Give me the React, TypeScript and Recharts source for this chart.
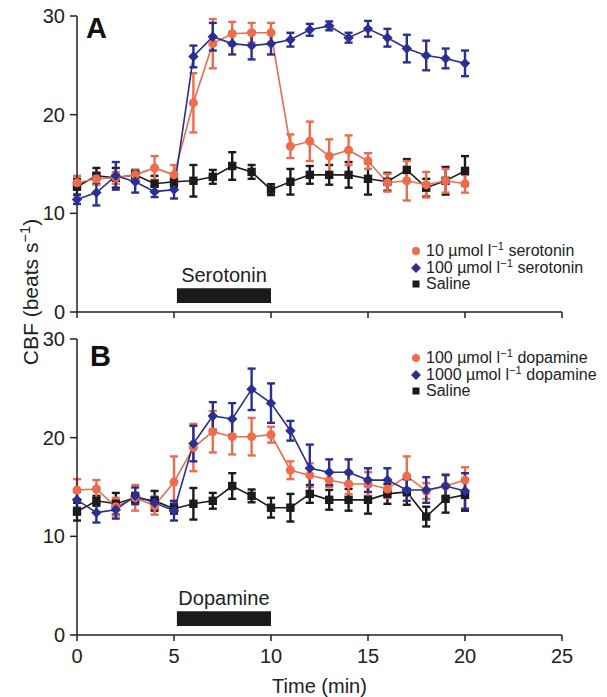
import React from 'react';
import { ComposedChart, Line, XAxis, YAxis, ErrorBar, ReferenceArea, Legend } from 'recharts';

// ---------- data ----------
const time = [0, 1, 2, 3, 4, 5, 6, 7, 8, 9, 10, 11, 12, 13, 14, 15, 16, 17, 18, 19, 20];
const xTicks = [0, 5, 10, 15, 20, 25];
const yTicks = [0, 10, 20, 30];

// Panel A
const serotonin10 = [13.1, 13.5, 13.6, 13.9, 14.6, 13.9, 21.2, 27.2, 28.2, 28.3, 28.3, 16.8, 17.3, 15.8, 16.4, 15.3, 13.1, 13.3, 12.9, 13.3, 13.0];
const serotonin10Err = [0.7, 0.6, 0.6, 0.5, 1.2, 1.0, 3.0, 2.5, 1.2, 1.0, 1.0, 1.2, 2.0, 1.7, 1.5, 0.8, 0.9, 2.0, 1.3, 1.2, 0.9];
const serotonin100 = [11.4, 12.1, 13.8, 13.2, 12.2, 12.4, 25.9, 27.9, 27.2, 27.0, 27.2, 27.6, 28.6, 29.0, 27.8, 28.7, 27.8, 26.7, 26.0, 25.7, 25.2];
const serotonin100Err = [0.45, 1.3, 1.4, 1.1, 0.55, 0.9, 1.1, 1.4, 1.1, 1.4, 1.1, 0.7, 0.6, 0.45, 0.5, 0.8, 0.9, 1.4, 1.5, 1.0, 1.3];
const salineA = [12.7, 13.8, 13.6, 13.9, 13.0, 13.2, 13.3, 13.7, 14.8, 14.2, 12.4, 13.2, 13.9, 13.9, 13.9, 13.5, 13.2, 14.4, 12.6, 13.3, 14.3];
const salineAErr = [0.8, 0.8, 1.0, 0.5, 0.8, 0.5, 1.6, 0.7, 1.4, 0.7, 0.55, 1.3, 0.9, 1.0, 1.3, 1.6, 0.9, 1.1, 0.9, 1.4, 1.5];

// Panel B
const dopamine100 = [14.7, 14.8, 13.0, 13.9, 13.1, 15.5, 19.0, 20.6, 20.1, 20.1, 20.3, 16.7, 16.2, 15.7, 15.3, 15.3, 14.8, 16.1, 14.6, 15.1, 15.7];
const dopamine100Err = [1.1, 0.9, 0.9, 1.3, 0.9, 2.6, 2.4, 2.1, 1.8, 1.9, 0.8, 0.9, 1.2, 0.7, 1.0, 1.2, 0.9, 2.0, 0.8, 1.2, 1.3];
const dopamine1000 = [13.7, 12.4, 12.7, 14.1, 13.4, 12.6, 19.4, 22.2, 21.9, 24.9, 23.5, 20.7, 16.9, 16.5, 16.5, 15.7, 15.7, 14.7, 14.7, 15.1, 14.6];
const dopamine1000Err = [0.8, 1.0, 0.9, 0.85, 0.6, 1.0, 1.8, 1.4, 1.6, 2.1, 2.0, 1.0, 2.4, 1.3, 1.3, 1.2, 1.2, 1.1, 1.3, 1.1, 1.8];
const salineB = [12.5, 13.6, 13.3, 13.9, 13.6, 12.8, 13.3, 13.6, 15.1, 14.1, 12.9, 12.9, 14.3, 13.7, 13.7, 13.7, 14.3, 14.5, 12.0, 13.8, 14.2];
const salineBErr = [0.9, 0.5, 1.1, 0.5, 1.0, 0.5, 1.6, 0.8, 1.3, 0.65, 1.0, 1.4, 0.9, 1.0, 1.1, 1.4, 1.0, 1.3, 1.0, 1.4, 1.6];

// stimulus period (min) and bar band (CBF units)
const stimulusPeriod = [5.15, 10];
const stimulusBand = [0.9, 2.4];

const legendA = ['10', '100', 'serotonin'];
const legendB = ['100', '1000', 'dopamine'];

// ---------- styles ----------
const FONT = '"Liberation Sans", Arial, Helvetica, sans-serif';
const RED = '#EE6B4D';
const BLUE = '#2A2F92';
const BLACK = '#1B1B1B';
const AXIS = '#222';

function buildRows(a: number[], aErr: number[], b: number[], bErr: number[], s: number[], sErr: number[]) {
  return time.map((t, i) => ({ t, a: a[i], aErr: aErr[i], b: b[i], bErr: bErr[i], s: s[i], sErr: sErr[i] }));
}

const rowsA = buildRows(serotonin10, serotonin10Err, serotonin100, serotonin100Err, salineA, salineAErr);
const rowsB = buildRows(dopamine100, dopamine100Err, dopamine1000, dopamine1000Err, salineB, salineBErr);

const CircleDot = (p: any) => {
  if (p.cx == null || p.cy == null) return <g key={p.key} />;
  return <circle key={p.key} cx={p.cx} cy={p.cy} r={4.5} fill={RED} />;
};
const DiamondDot = (p: any) => {
  if (p.cx == null || p.cy == null) return <g key={p.key} />;
  const h = 5.2;
  return <polygon key={p.key} points={`${p.cx},${p.cy - h} ${p.cx + h},${p.cy} ${p.cx},${p.cy + h} ${p.cx - h},${p.cy}`} fill={BLUE} />;
};
const SquareDot = (p: any) => {
  if (p.cx == null || p.cy == null) return <g key={p.key} />;
  const h = 4.2;
  return <rect key={p.key} x={p.cx - h} y={p.cy - h} width={2 * h} height={2 * h} fill={BLACK} />;
};

const Sup = ({ children }: any) => (
  <span style={{ fontSize: '0.7em', verticalAlign: '0.5em', lineHeight: 0 }}>{children}</span>
);

function LegendBox({ items }: { items: string[] }) {
  const [c1, c2, drug] = items;
  const row: React.CSSProperties = { display: 'flex', alignItems: 'center', height: 16.5, whiteSpace: 'nowrap' };
  const mk: React.CSSProperties = { width: 10, display: 'flex', justifyContent: 'center', marginRight: 5 };
  return (
    <div style={{ fontFamily: FONT, fontSize: 16, color: '#222', lineHeight: '16px' }}>
      <div style={row}>
        <span style={mk}><svg width={10} height={10}><circle cx={5} cy={5} r={4} fill={RED} /></svg></span>
        <span>{c1} µmol l<Sup>−1</Sup> {drug}</span>
      </div>
      <div style={row}>
        <span style={mk}><svg width={10} height={10}><polygon points="5,0 10,5 5,10 0,5" fill={BLUE} /></svg></span>
        <span>{c2} µmol l<Sup>−1</Sup> {drug}</span>
      </div>
      <div style={row}>
        <span style={mk}><svg width={10} height={10}><rect x={1.5} y={1.5} width={7} height={7} fill={BLACK} /></svg></span>
        <span>Saline</span>
      </div>
    </div>
  );
}

function Panel({ top, height, rows, letter, letterTop, letterLeft, stimulusLabel, legendItems, legendTop, showXLabels }: any) {
  const tickStyle = { fontSize: 20, fill: AXIS, fontFamily: FONT };
  return (
    <div style={{ position: 'absolute', left: 0, top, width: 607, height }}>
      <ComposedChart
        width={607}
        height={height}
        data={rows}
        margin={{ top: 16, right: 45, bottom: showXLabels ? 0 : 8, left: 0 }}
      >
        <XAxis
          dataKey="t"
          type="number"
          domain={[0, 25]}
          ticks={xTicks}
          interval={0}
          height={showXLabels ? 62 : 10}
          tickSize={6}
          tickMargin={8}
          tickFormatter={showXLabels ? undefined : () => ''}
          tick={tickStyle}
          stroke={AXIS}
          strokeWidth={1.5}
          tickLine={{ stroke: AXIS, strokeWidth: 1.5 }}
          label={showXLabels ? { value: 'Time (min)', position: 'insideBottom', offset: 4, fontSize: 20, fill: AXIS, fontFamily: FONT } : undefined}
        />
        <YAxis
          type="number"
          domain={[0, 30]}
          ticks={yTicks}
          interval={0}
          width={77}
          tickSize={7}
          tickMargin={5}
          tick={tickStyle}
          stroke={AXIS}
          strokeWidth={1.5}
          tickLine={{ stroke: AXIS, strokeWidth: 1.5 }}
        />
        <ReferenceArea
          x1={stimulusPeriod[0]}
          x2={stimulusPeriod[1]}
          y1={stimulusBand[0]}
          y2={stimulusBand[1]}
          fill={BLACK}
          fillOpacity={1}
          stroke="none"
          ifOverflow="visible"
          label={{ value: stimulusLabel, position: 'top', offset: 6, fontSize: 20, fill: AXIS, fontFamily: FONT }}
        />
        <Line dataKey="s" stroke={BLACK} strokeWidth={1.6} dot={SquareDot} activeDot={false} isAnimationActive={false}>
          <ErrorBar dataKey="sErr" width={4} strokeWidth={2.4} stroke={BLACK} direction="y" />
        </Line>
        <Line dataKey="a" stroke={RED} strokeWidth={1.6} dot={CircleDot} activeDot={false} isAnimationActive={false}>
          <ErrorBar dataKey="aErr" width={4} strokeWidth={2.4} stroke={RED} direction="y" />
        </Line>
        <Line dataKey="b" stroke={BLUE} strokeWidth={1.6} dot={DiamondDot} activeDot={false} isAnimationActive={false}>
          <ErrorBar dataKey="bErr" width={4} strokeWidth={2.4} stroke={BLUE} direction="y" />
        </Line>
        <Legend
          layout="vertical"
          align="center"
          verticalAlign="middle"
          content={() => <LegendBox items={legendItems} />}
          wrapperStyle={{ left: 411, top: legendTop, width: 200 }}
        />
      </ComposedChart>
      <div
        style={{
          position: 'absolute',
          left: letterLeft,
          top: letterTop,
          fontFamily: FONT,
          fontWeight: 'bold',
          fontSize: 29,
          lineHeight: 1,
          color: '#111',
        }}
      >
        {letter}
      </div>
    </div>
  );
}

export default function App() {
  return (
    <div style={{ position: 'absolute', left: 0, top: 0, width: 607, height: 697, background: '#fff', fontFamily: FONT, overflow: 'hidden' }}>
      <Panel
        top={0}
        height={330}
        rows={rowsA}
        letter="A"
        letterTop={14}
        letterLeft={86}
        stimulusLabel="Serotonin"
        legendItems={legendA}
        legendTop={243}
        showXLabels={false}
      />
      <Panel
        top={323}
        height={374}
        rows={rowsB}
        letter="B"
        letterTop={19}
        letterLeft={90}
        stimulusLabel="Dopamine"
        legendItems={legendB}
        legendTop={27}
        showXLabels={true}
      />
      <div
        style={{
          position: 'absolute',
          left: 30,
          top: 292,
          transform: 'translate(-50%, -50%) rotate(-90deg)',
          fontFamily: FONT,
          fontSize: 21,
          color: AXIS,
          whiteSpace: 'nowrap',
          lineHeight: 1,
        }}
      >
        CBF (beats s<Sup>−1</Sup>)
      </div>
    </div>
  );
}
